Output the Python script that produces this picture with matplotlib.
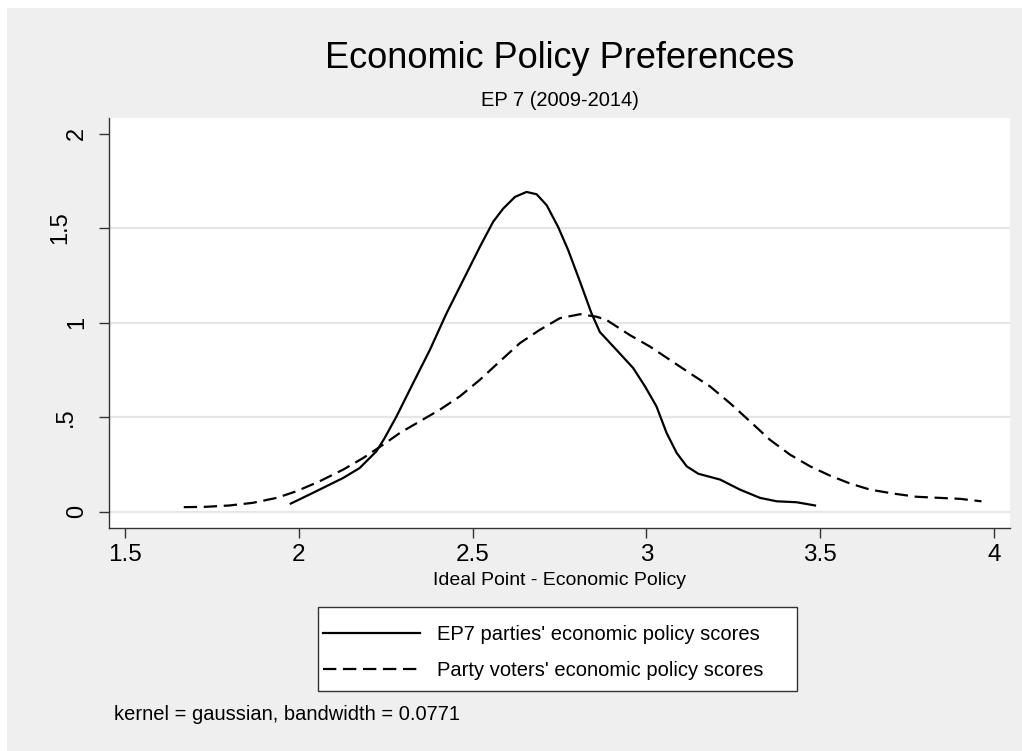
#!/usr/bin/env python3
"""Kernel density of economic policy ideal points, EP7 parties vs. party voters."""
import matplotlib
matplotlib.use('Agg')
import matplotlib.pyplot as plt
from matplotlib.patches import Rectangle
from matplotlib.lines import Line2D
from matplotlib.transforms import blended_transform_factory

# density curves
parties_x = [1.977, 2.041, 2.128, 2.175, 2.223, 2.247, 2.281, 2.329, 2.377, 2.425,
             2.473, 2.521, 2.559, 2.588, 2.622, 2.655, 2.684, 2.713, 2.746, 2.775,
             2.809, 2.842, 2.866, 2.914, 2.962, 2.996, 3.029, 3.058, 3.087, 3.116,
             3.149, 3.212, 3.269, 3.327, 3.375, 3.432, 3.485]
parties_y = [0.042, 0.099, 0.178, 0.230, 0.318, 0.389, 0.503, 0.680, 0.855, 1.049,
             1.225, 1.401, 1.533, 1.603, 1.665, 1.691, 1.679, 1.621, 1.506, 1.383,
             1.216, 1.049, 0.950, 0.855, 0.759, 0.662, 0.556, 0.416, 0.310, 0.239,
             0.200, 0.169, 0.116, 0.072, 0.054, 0.049, 0.032]

voters_x = [1.669, 1.734, 1.801, 1.868, 1.936, 1.993, 2.060, 2.128, 2.185, 2.243,
            2.291, 2.348, 2.406, 2.463, 2.521, 2.578, 2.636, 2.693, 2.751, 2.809,
            2.856, 2.885, 2.952, 3.010, 3.067, 3.125, 3.183, 3.240, 3.298, 3.355,
            3.413, 3.471, 3.528, 3.586, 3.643, 3.710, 3.777, 3.845, 3.902, 3.964]
voters_y = [0.023, 0.025, 0.032, 0.046, 0.072, 0.107, 0.160, 0.222, 0.283, 0.354,
            0.416, 0.477, 0.539, 0.609, 0.697, 0.794, 0.891, 0.961, 1.023, 1.044,
            1.031, 1.014, 0.934, 0.873, 0.803, 0.732, 0.662, 0.574, 0.477, 0.380,
            0.301, 0.239, 0.190, 0.148, 0.116, 0.095, 0.078, 0.072, 0.067, 0.054]

x_ticks = [1.5, 2, 2.5, 3, 3.5, 4]
x_ticklabels = ['1.5', '2', '2.5', '3', '3.5', '4']
y_ticks = [0, 0.5, 1, 1.5, 2]
y_ticklabels = ['0', '.5', '1', '1.5', '2']
grid_y = [0, 0.5, 1, 1.5]

title = 'Economic Policy Preferences'
subtitle = 'EP 7 (2009-2014)'
xlabel = 'Ideal Point - Economic Policy'
labels = ["EP7 parties' economic policy scores", "Party voters' economic policy scores"]
note = 'kernel = gaussian, bandwidth = 0.0771'

BG = '#efefef'
AX = '#333333'
plt.rcParams['font.family'] = ['Liberation Sans', 'DejaVu Sans']

W, H = 1022, 751
fig = plt.figure(figsize=(W / 100, H / 100), dpi=100, facecolor=BG)
# thin white edge at the top and left of the graph region
fig.patches.append(Rectangle((0, 1 - 8 / H), 1, 8 / H, transform=fig.transFigure,
                             facecolor='white', edgecolor='none', zorder=-10))
fig.patches.append(Rectangle((0, 0), 7 / W, 1, transform=fig.transFigure,
                             facecolor='white', edgecolor='none', zorder=-10))

ax_left, ax_right = 109.3, 1010
ax = fig.add_axes([ax_left / W, 1 - 527.7 / H, (ax_right - ax_left) / W, (527.7 - 117.5) / H])
ax.set_facecolor('white')

for g in grid_y:
    ax.axhline(g, color='#e6e6e6', lw=1.6, zorder=0)

ax.plot(parties_x, parties_y, color='black', lw=1.6, solid_joinstyle='round')
ax.plot(voters_x, voters_y, color='black', lw=1.6, dashes=(6, 3))

ax.set_xlim(1.4548, 4.046)
ax.set_ylim(-0.0857, 2.085)

for side in ('top', 'right'):
    ax.spines[side].set_visible(False)
for side in ('left', 'bottom'):
    ax.spines[side].set_color(AX)
    ax.spines[side].set_linewidth(1.0)

ax.set_xticks(x_ticks)
ax.set_xticklabels(x_ticklabels, fontsize=17.5)
ax.set_yticks(y_ticks)
ax.tick_params(axis='both', length=7, width=1.0, color=AX, labelcolor='black')
ax.tick_params(axis='x', pad=5)
ax.tick_params(axis='y', labelleft=False)

# vertical y labels; the longer ones sit further left, as in the reference
ylab_x = {'0': 77, '.5': 66, '1': 77, '1.5': 60, '2': 77}
ytrans = blended_transform_factory(ax.transAxes, ax.transData)
for val, lab in zip(y_ticks, y_ticklabels):
    xa = (ylab_x[lab] - ax_left) / (ax_right - ax_left)
    ax.text(xa, val, lab, transform=ytrans, rotation=90, ha='center', va='center',
            fontsize=17, clip_on=False)

ax.set_xlabel(xlabel, fontsize=14, labelpad=4)

cx = (ax_left + ax_right) / 2 / W
fig.text(cx, 1 - 58 / H, title, ha='center', va='center', fontsize=26)
fig.text(cx, 1 - 100 / H, subtitle, ha='center', va='center', fontsize=14.5)

# legend box drawn separately so its padding can match the reference
fig.patches.append(Rectangle((318 / W, 1 - 691 / H), (797 - 318) / W, (691 - 607) / H,
                             transform=fig.transFigure, facecolor='white',
                             edgecolor=AX, linewidth=1.0, zorder=1))
handles = [Line2D([], [], color='black', lw=1.6),
           Line2D([], [], color='black', lw=1.6, dashes=(6, 3))]
leg = fig.legend(handles, labels, loc='upper left',
                 bbox_to_anchor=(323 / W, 1 - 625 / H), fontsize=14.5,
                 frameon=False, handlelength=4.8, handletextpad=0.85,
                 borderpad=0, labelspacing=0.85, borderaxespad=0)
leg.set_zorder(2)

fig.text(114 / W, 1 - 715 / H, note, ha='left', va='center', fontsize=14.5)

fig.savefig('out.png', dpi=100, facecolor=fig.get_facecolor())
